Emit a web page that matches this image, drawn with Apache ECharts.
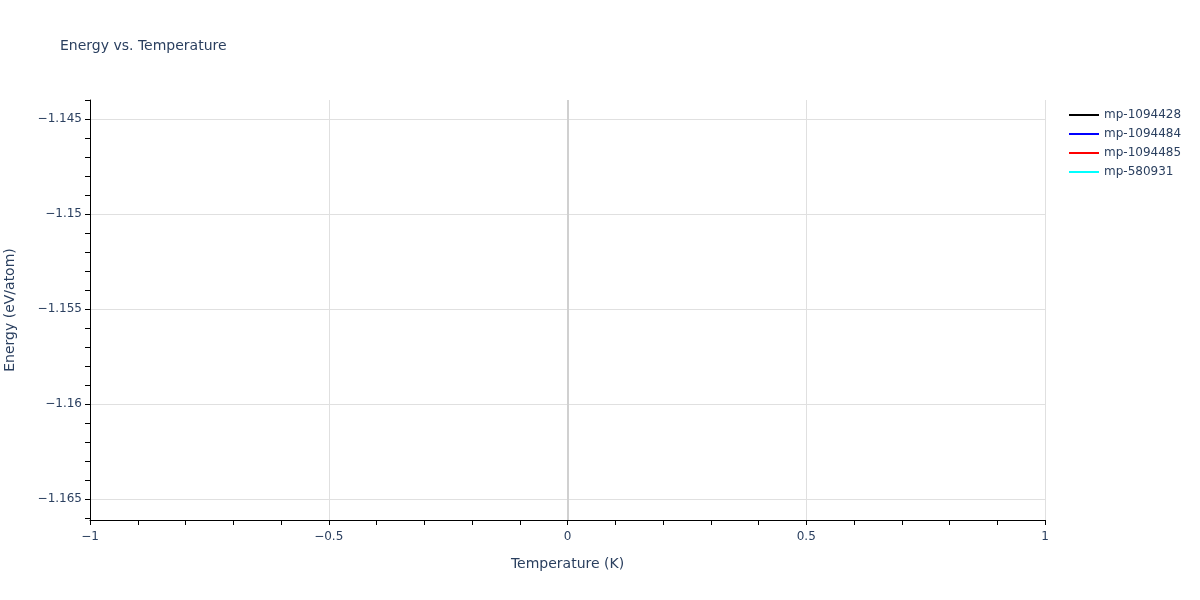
<!DOCTYPE html>
<html>
<head>
<meta charset="utf-8">
<script src="https://cdn.jsdelivr.net/npm/echarts@6/dist/echarts.min.js"></script>
<style>html,body{margin:0;padding:0;background:#fff}#c{width:1200px;height:600px}</style>
</head>
<body>
<div id="c"></div>
<script>
const seriesNames = ['mp-1094428', 'mp-1094484', 'mp-1094485', 'mp-580931'];
const seriesColors = ['#000000', '#0000ff', '#ff0000', '#00ffff'];
const seriesData = [[], [], [], []];
const yMajorTicks = [-1.165, -1.16, -1.155, -1.15, -1.145];
const yMinorTicks = [-1.166, -1.164, -1.163, -1.162, -1.161, -1.159, -1.158, -1.157, -1.156, -1.154, -1.153, -1.152, -1.151, -1.149, -1.148, -1.147, -1.146, -1.144];
const xRange = [-1, 1];
const yRange = [-1.1661, -1.144];

const FONT = 'DejaVu Sans';
const TXT = '#2a3f5f';
const fmt = v => String(+v.toFixed(4)).replace('-', '\u2212');

const chart = echarts.init(document.getElementById('c'));
const series = seriesNames.map((n, i) => ({
  name: n, type: 'line', data: seriesData[i], showSymbol: false,
  itemStyle: { color: seriesColors[i] }, lineStyle: { color: seriesColors[i], width: 2 }
}));
series[0].markLine = {
  silent: true, symbol: 'none', label: { show: false },
  lineStyle: { color: '#d0d0d0', width: 2, type: 'solid' },
  data: [{ xAxis: 0 }]
};
chart.setOption({
  animation: false,
  textStyle: { fontFamily: FONT },
  title: { text: 'Energy vs. Temperature', left: 55, top: 34, textStyle: { fontFamily: FONT, fontSize: 14, fontWeight: 'normal', color: TXT } },
  legend: {
    orient: 'vertical', left: 1064, top: 104, itemGap: 7, itemWidth: 30, itemHeight: 14,
    icon: 'path://M0,6 L30,6 L30,8 L0,8 Z',
    textStyle: { fontFamily: FONT, fontSize: 12, color: TXT },
    data: seriesNames.map((n, i) => ({ name: n, itemStyle: { color: seriesColors[i] } }))
  },
  grid: { left: 90, right: 155, top: 100, bottom: 80, containLabel: false, outerBoundsMode: 'none' },
  xAxis: {
    type: 'value', min: xRange[0], max: xRange[1], interval: 0.5,
    name: 'Temperature (K)', nameLocation: 'middle', nameGap: 37,
    nameTextStyle: { fontFamily: FONT, fontSize: 14, color: TXT },
    axisLine: { show: true, onZero: false, lineStyle: { color: '#000', width: 1 } },
    axisTick: { show: true, length: 5, lineStyle: { color: '#000' } },
    minorTick: { show: true, splitNumber: 5, length: 5, lineStyle: { color: '#000' } },
    axisLabel: { fontFamily: FONT, fontSize: 12, color: TXT, margin: 11, formatter: fmt },
    splitLine: { show: true, lineStyle: { color: '#e0e0e0', width: 1 } }
  },
  yAxis: [{
    type: 'value', min: yRange[0], max: yRange[1],
    name: 'Energy (eV/atom)', nameLocation: 'middle', nameGap: 73,
    nameTextStyle: { fontFamily: FONT, fontSize: 14, color: TXT },
    axisLine: { show: true, onZero: false, lineStyle: { color: '#000', width: 1 } },
    axisTick: { show: true, length: 5, customValues: yMajorTicks, lineStyle: { color: '#000' } },
    axisLabel: { fontFamily: FONT, fontSize: 12, color: TXT, margin: 8, customValues: yMajorTicks, formatter: fmt },
    splitLine: { show: true, lineStyle: { color: '#e0e0e0', width: 1 } }
  }, {
    type: 'value', min: yRange[0], max: yRange[1], position: 'left', offset: 0,
    axisLine: { show: false, onZero: false },
    axisTick: { show: true, length: 5, customValues: yMinorTicks, lineStyle: { color: '#000' } },
    axisLabel: { show: false },
    splitLine: { show: false }
  }],
  series: series
});
</script>
</body>
</html>
